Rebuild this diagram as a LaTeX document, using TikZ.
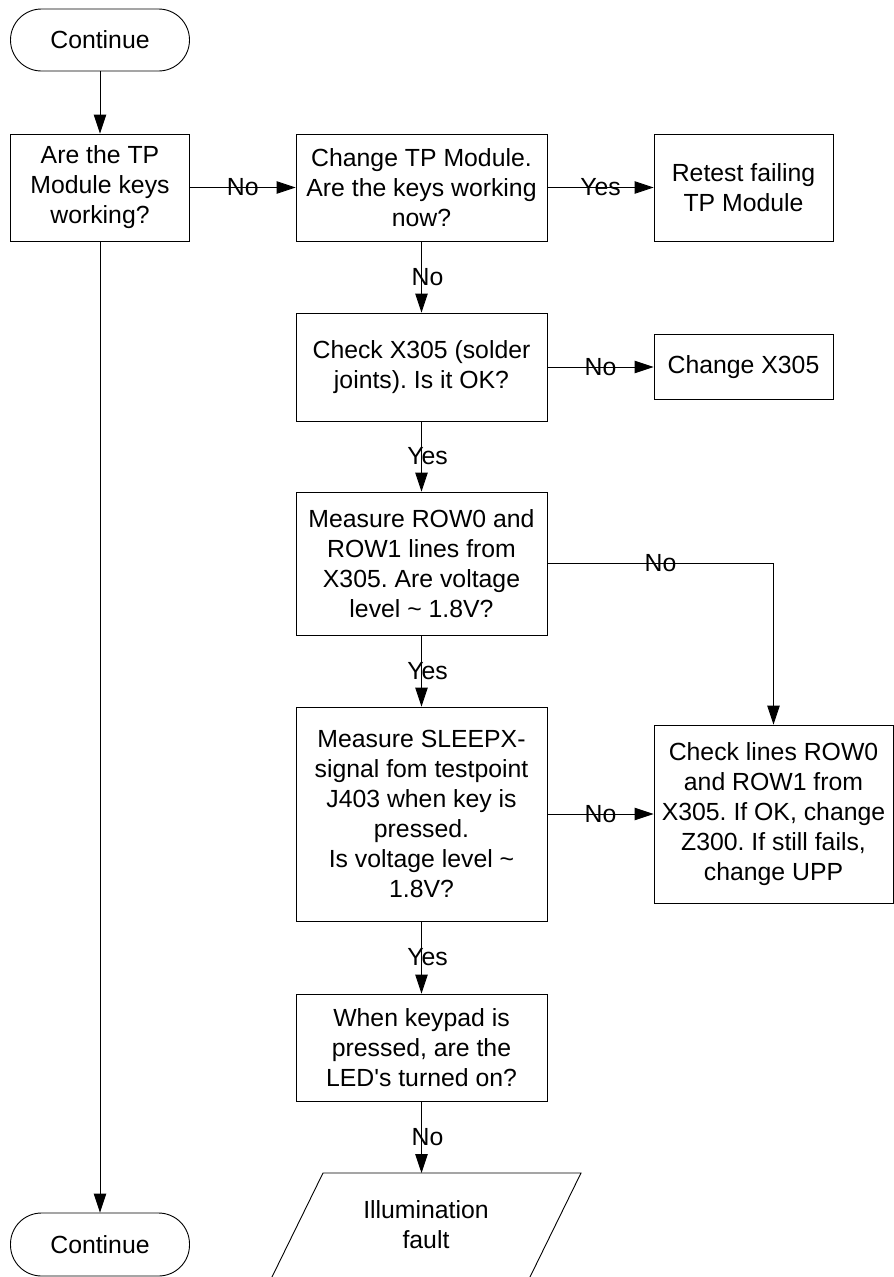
\documentclass[tikz,border=0pt]{standalone}
\usepackage{fontspec}
\setmainfont{Liberation Sans}
\usetikzlibrary{arrows.meta}
\frenchspacing
\begin{document}
\begin{tikzpicture}[x=1pt,y=-1pt,
  box/.style={draw=black, line width=0.9pt, inner sep=0pt, align=center, rectangle,
    font=\fontsize{24.8}{30}\selectfont},
  term/.style={box, rounded corners=31pt},
  plain/.style={inner sep=0pt, align=center, font=\fontsize{24.8}{30}\selectfont},
  arr/.style={draw=black, line width=0.9pt, -{Triangle[length=19pt,width=12.5pt]}},
  lbl/.style={plain},
  vlbl/.style={plain, xshift=6pt}
]
\useasboundingbox (0,0) rectangle (894,1277);
\fill[white] (0,0) rectangle (894,1277);
\clip (0,0) rectangle (894,1277);

\node[term, minimum width=179pt, minimum height=62pt] (c1) at (100,40) {Continue};
\node[box, minimum width=179pt, minimum height=107pt] (q1) at (100,187.5) {Are the TP\\Module keys\\working?};
\node[box, minimum width=251pt, minimum height=107pt] (q2) at (421.5,187.5) {Change TP Module.\\Are the keys working\\now?};
\node[box, minimum width=179pt, minimum height=107pt] (rt) at (743.5,187.5) {Retest failing\\TP Module};
\node[box, minimum width=251pt, minimum height=108pt] (q3) at (421.5,367) {Check X305 (solder\\joints). Is it OK?};
\node[box, minimum width=179pt, minimum height=65pt] (c305) at (743.5,367) {Change X305};
\node[box, minimum width=251pt, minimum height=143pt] (q4) at (421.5,563.5) {Measure ROW0 and\\ROW1 lines from\\X305. Are voltage\\level \textasciitilde{} 1.8V?};
\node[box, minimum width=251pt, minimum height=214pt] (q5) at (421.5,814) {Measure SLEEPX-\\signal fom testpoint\\J403 when key is\\pressed.\\Is voltage level \textasciitilde\\1.8V?};
\node[box, minimum width=239pt, minimum height=178pt] (chk) at (773.5,814) {Check lines ROW0\\and ROW1 from\\X305. If OK, change\\Z300. If still fails,\\change UPP};
\node[box, minimum width=251pt, minimum height=107pt] (q6) at (421.5,1047.5) {When keypad is\\pressed, are the\\LED\textquotesingle s turned on?};
\node[plain] (fault) at (426,1225) {Illumination\\fault};
\draw[line width=0.9pt] (271,1279) -- (323,1173) -- (581,1173) -- (529,1279);
\coordinate (ftop) at (421.5,1173);
\node[term, minimum width=179pt, minimum height=63pt] (c2) at (100,1244.5) {Continue};

\draw[arr] (c1) -- (q1);
\draw[arr] (q1) -- node[lbl]{No} (q2);
\draw[arr] (q2) -- node[lbl]{Yes} (rt);
\draw[arr] (q2) -- node[vlbl]{No} (q3);
\draw[arr] (q3) -- node[lbl]{No} (c305);
\draw[arr] (q3) -- node[vlbl]{Yes} (q4);
\draw[arr] (q4.east) -- node[lbl]{No} (q4.east -| chk.north) -- (chk.north);
\draw[arr] (q4) -- node[vlbl]{Yes} (q5);
\draw[arr] (q5) -- node[lbl]{No} (chk);
\draw[arr] (q5) -- node[vlbl]{Yes} (q6);
\draw[arr] (q6.south) -- node[vlbl]{No} (ftop);
\draw[arr] (q1) -- (c2);
\end{tikzpicture}
\end{document}
